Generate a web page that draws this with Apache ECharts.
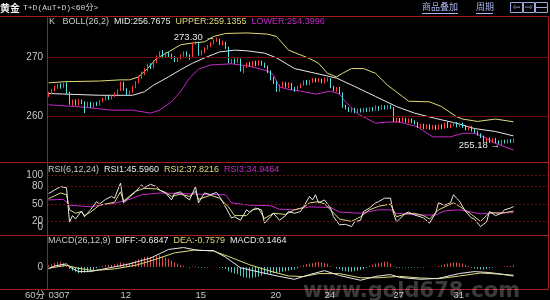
<!DOCTYPE html>
<html><head><meta charset="utf-8">
<script src="https://cdn.jsdelivr.net/npm/echarts@6/dist/echarts.min.js"></script>
<style>html,body{margin:0;padding:0;background:#000}#c{width:550px;height:300px}</style>
</head><body><div id="c"></div>
<script>
// ---------------- DATA ----------------
const slotCount = 167; // bar slots across the panel (data + empty right margin)
const dateTicks = {0:'0307', 24:'12', 49:'15', 74:'20', 92:'24', 115:'27', 135:'31'};
// [open, close, low, high]
const candles = [
[263.6,264.0,263.3,264.2],[264.0,264.5,263.8,264.7],[264.4,264.9,264.2,265.2],[264.9,265.3,264.7,265.5],
[265.2,264.9,264.7,265.6],[264.9,265.5,264.8,265.7],[265.5,264.0,263.8,265.8],[264.0,262.2,262.0,264.2],
[262.2,262.6,261.8,262.9],[262.6,262.1,261.9,262.9],[262.1,262.7,261.9,263.0],[262.7,262.4,262.1,262.9],
[262.4,261.8,260.6,262.6],[261.8,262.3,261.6,262.5],[262.3,261.7,261.5,262.5],[261.7,262.2,261.5,262.4],
[262.2,262.0,261.8,262.5],[262.0,262.6,261.9,262.8],[262.6,262.9,262.4,263.2],[262.9,263.3,262.7,263.5],
[263.3,263.0,262.8,263.5],[263.0,263.5,262.9,263.7],[263.5,263.9,263.3,264.1],[263.9,264.4,263.7,264.6],
[264.4,265.6,264.3,265.9],[265.6,264.6,264.4,265.9],[264.6,263.7,263.5,264.8],[263.7,264.2,263.6,264.4],
[264.2,265.0,264.0,265.2],[265.0,265.8,264.8,266.0],[265.8,266.6,265.6,266.9],[266.6,267.3,266.4,267.6],
[267.3,267.9,267.0,268.2],[267.9,268.6,267.6,268.9],[268.6,268.3,268.0,269.0],[268.3,269.3,268.1,269.5],
[269.3,270.0,269.0,270.3],[270.0,270.7,269.8,271.0],[270.7,270.1,269.8,271.2],[270.1,270.6,269.9,270.9],
[270.6,270.3,270.0,270.9],[270.3,270.0,269.7,270.6],[270.0,269.4,269.2,270.2],[269.4,269.8,269.2,270.0],
[269.8,270.3,269.6,270.5],[270.3,270.8,270.1,271.0],[270.8,270.3,270.1,271.0],[270.3,269.8,269.6,270.5],
[270.2,272.3,270.0,272.5],[272.3,272.4,272.1,272.7],[272.4,270.5,270.3,272.6],[270.5,271.0,270.3,271.2],
[270.9,271.5,270.7,271.7],[271.5,271.9,271.3,272.1],[271.9,272.4,271.7,272.6],[272.4,272.8,272.2,273.0],
[272.8,273.0,272.6,273.3],[273.0,272.3,272.1,273.1],[272.3,272.5,272.0,272.8],[272.5,271.6,271.4,272.6],
[271.6,269.2,269.0,271.8],[269.2,269.5,268.9,269.7],[269.5,269.3,268.9,269.8],[269.3,269.6,269.0,269.9],
[269.6,267.8,267.6,269.8],[267.8,268.4,267.3,268.6],[268.4,268.9,268.2,269.1],[268.9,268.6,268.4,269.2],
[268.6,269.1,268.4,269.4],[269.1,268.8,268.5,269.4],[268.8,269.2,268.6,269.5],[269.2,268.9,268.6,269.4],
[268.9,268.4,268.2,269.1],[268.4,267.6,267.3,268.6],[267.6,266.4,266.1,267.8],[266.4,265.8,265.5,266.7],
[265.8,264.4,264.2,266.0],[264.4,265.2,264.2,265.4],[265.2,265.6,264.9,265.9],[265.6,265.1,264.9,265.8],
[265.1,265.5,264.8,265.8],[265.5,264.7,264.5,265.7],[264.7,264.5,264.2,265.0],[264.5,265.0,264.3,265.2],
[265.0,265.4,264.8,265.6],[265.4,265.9,265.2,266.1],[265.9,265.5,265.3,266.2],[265.5,265.9,265.3,266.2],
[265.9,266.3,265.7,266.5],[266.3,266.0,265.8,266.5],[266.0,266.2,265.8,266.5],[266.2,265.8,265.6,266.4],
[265.8,266.1,265.6,266.6],[266.1,266.3,265.9,266.6],[266.3,265.0,264.8,266.5],[265.0,264.6,264.3,265.2],
[264.6,264.8,264.2,265.0],[264.8,264.0,263.8,265.0],[264.0,261.8,261.5,264.1],[261.8,261.4,261.2,262.0],
[261.4,261.1,260.8,261.6],[261.1,261.3,260.7,261.5],[261.3,260.9,260.6,261.5],[260.9,261.2,260.6,261.4],
[261.2,260.9,260.7,261.4],[260.9,261.3,260.7,261.5],[261.3,261.0,260.8,261.5],[261.0,261.4,260.8,261.6],
[261.4,261.2,260.9,261.6],[261.2,261.6,261.0,261.9],[261.6,261.3,261.0,261.8],[261.3,261.7,261.1,262.0],
[261.7,261.4,261.2,261.9],[261.4,261.8,261.2,262.0],[261.8,261.5,261.3,262.0],[261.5,259.3,259.1,261.6],
[259.3,259.6,259.0,259.8],[259.6,259.3,259.0,259.8],[259.3,259.7,259.1,259.9],[259.7,259.2,259.0,259.8],
[259.2,259.5,258.9,259.7],[259.5,259.1,258.9,259.7],[259.1,258.9,258.7,259.4],[258.9,258.3,258.1,259.1],
[258.3,258.6,258.0,258.8],[258.6,258.2,257.9,258.8],[258.2,258.5,257.9,258.7],[258.5,258.1,257.8,258.7],
[258.1,258.4,257.8,258.6],[258.4,258.0,257.8,258.6],[258.0,258.5,257.8,258.7],[258.5,258.2,257.9,258.7],
[258.2,258.8,258.0,259.0],[258.8,258.3,258.1,259.1],[258.3,258.6,258.1,258.8],[258.6,258.9,258.4,259.1],
[258.9,258.5,258.2,259.1],[258.5,258.8,258.3,259.0],[258.8,258.3,258.1,259.0],[258.3,258.0,257.7,258.5],
[258.0,258.2,257.7,258.4],[258.2,257.7,257.5,258.4],[257.7,257.4,257.2,257.9],[257.4,257.0,256.8,257.6],
[257.0,256.6,256.4,257.2],[256.6,255.9,255.7,256.8],[255.9,256.3,255.7,256.5],[256.3,255.9,255.6,256.5],
[255.9,256.2,255.6,256.4],[256.2,255.8,255.5,256.4],[255.8,255.5,255.4,256.0],[255.5,255.9,255.18,256.1],
[255.9,255.7,255.5,256.1],[255.7,256.0,255.5,256.2],[256.0,255.8,255.6,256.2],[255.8,256.1,255.6,256.3]
];
// Bollinger bands, read at sampled bars: [barIndex, value]
const bollUpper = [[0,265.7],[6,265.9],[17,266.0],[24,266.2],[27,266.2],[30,266.7],[33,268.1],[36,269.8],[40,270.9],[44,272.1],[48,272.4],[52,272.6],[55,273.5],[59,274.0],[66,274.1],[73,273.9],[76,273.5],[80,271.2],[87,269.8],[90,269.0],[93,267.3],[96,266.7],[98,267.3],[101,268.1],[105,268.1],[109,267.3],[113,265.3],[118,263.4],[120,262.6],[127,262.5],[131,261.7],[136,260.0],[138,259.6],[143,259.2],[149,259.6],[155,259.1355]];
const bollMid = [[0,263.9],[17,263.6],[28,263.6],[32,264.2],[35,265.3],[40,266.7],[44,267.9],[48,269.0],[53,270.1],[57,270.9],[62,271.2],[66,271.1],[72,270.7],[76,269.9],[82,268.1],[89,267.3],[96,266.5],[102,265.1],[109,263.4],[116,261.7],[122,260.6],[129,259.7],[136,258.9],[142,258.0],[149,257.5],[155,256.7675]];
const bollLower = [[0,262.0],[12,261.6],[21,261.1],[28,261.1],[34,260.6],[37,261.1],[41,262.5],[44,264.2],[47,266.5],[50,268.0],[54,268.7],[61,268.9],[67,268.5],[73,267.7],[75,267.0],[77,265.0],[80,264.6],[84,264.3],[89,263.8],[94,264.3],[97,263.8],[99,262.5],[103,260.5],[109,258.9],[113,259.1],[117,259.1],[123,258.3],[128,256.6],[134,256.6],[138,257.2],[142,257.2],[145,256.6],[149,255.5],[155,254.3996]];
// RSI(6,12,24)
const rsi1 = [[0,68],[2,74],[4,80],[6,78],[7,19],[8,30],[9,24],[11,38],[12,28],[14,40],[16,54],[17,50],[19,58],[21,63],[22,60],[24,86],[25,52],[27,62],[29,71],[31,83],[32,78],[34,84],[36,80],[37,74],[39,69],[41,57],[42,68],[44,71],[45,65],[47,57],[49,80],[50,52],[52,69],[54,66],[56,70],[57,63],[59,45],[61,26],[62,28],[64,22],[66,40],[67,36],[69,43],[71,40],[72,17],[74,28],[75,34],[77,22],[79,30],[80,37],[82,34],[84,37],[85,45],[87,63],[88,57],[89,66],[90,52],[92,57],[94,43],[95,28],[97,14],[99,15],[101,11],[102,19],[104,22],[105,37],[107,43],[109,52],[110,54],[112,60],[114,60],[115,34],[116,19],[117,24],[119,34],[120,36],[122,31],[124,28],[125,26],[127,17],[129,34],[130,52],[132,48],[134,52],[135,66],[136,60],[137,55],[139,37],[141,26],[142,24],[144,11],[146,19],[147,37],[149,30],[151,34],[152,40],[154,43],[155,45.5960]];
const rsi2 = [[0,59],[4,69],[6,66],[7,40],[9,34],[11,37],[12,30],[14,36],[17,48],[21,52],[22,53],[24,71],[25,55],[29,72],[32,77],[36,76],[39,70],[41,63],[44,67],[47,63],[49,72],[50,58],[54,65],[57,60],[60,45],[62,30],[66,30],[68,40],[70,42],[72,25],[75,34],[79,32],[82,40],[85,44],[87,52],[90,54],[92,50],[94,40],[97,24],[101,20],[104,28],[107,40],[110,46],[114,50],[116,28],[119,33],[122,34],[125,30],[127,24],[130,40],[135,52],[137,46],[141,32],[144,20],[147,35],[151,34],[155,37.8216]];
const rsi3 = [[0,57],[5,58],[7,48],[14,45],[17,48],[22,51],[27,58],[31,66],[37,69],[50,67],[59,66],[61,52],[67,48],[74,47],[77,41],[82,40],[87,45],[94,44],[97,36],[104,34],[107,37],[110,40],[114,40],[116,34],[124,31],[129,31],[132,38],[137,40],[141,36],[144,33],[149,35],[155,34.9464]];
// MACD(26,12,9)
const diff = [[0,-0.14],[2,0.1],[6,0.27],[7,0.02],[10,-0.38],[14,-0.38],[17,-0.22],[22,0.02],[27,0.27],[34,0.76],[40,1.49],[45,1.65],[50,1.4],[55,1.4],[59,0.84],[64,-0.06],[71,-0.46],[77,-0.79],[82,-1.03],[87,-0.63],[92,-0.3],[97,-0.71],[104,-1.11],[109,-0.79],[114,-0.63],[117,-0.87],[124,-1.03],[130,-0.95],[137,-0.54],[142,-0.38],[147,-0.46],[152,-0.63],[155,-0.6847]];
const dea = [[0,-0.1],[6,0.15],[10,-0.1],[15,-0.3],[22,-0.15],[29,0.15],[35,0.6],[42,1.2],[49,1.45],[55,1.35],[60,0.9],[67,0.2],[74,-0.35],[80,-0.75],[85,-0.8],[90,-0.55],[97,-0.55],[104,-0.9],[110,-0.9],[117,-0.78],[124,-0.92],[130,-0.98],[137,-0.75],[144,-0.5],[151,-0.6],[155,-0.7579]];
const macdHist = [0.15,0.25,0.35,0.45,0.45,0.35,0.1,-0.15,-0.3,-0.4,-0.5,-0.5,-0.45,-0.4,-0.35,-0.25,-0.1,0.05,0.1,0.15,0.2,0.2,0.25,0.3,0.4,0.35,0.3,0.35,0.45,0.55,0.65,0.75,0.85,0.9,0.85,0.9,0.95,1.0,0.85,0.8,0.7,0.55,0.4,0.3,0.2,0.1,0.02,-0.05,0.05,0.08,-0.05,-0.05,-0.04,-0.03,0.02,0.03,0.02,-0.05,-0.08,-0.15,-0.35,-0.45,-0.55,-0.6,-0.75,-0.85,-0.9,-0.95,-0.9,-0.85,-0.8,-0.7,-0.6,-0.55,-0.55,-0.5,-0.5,-0.45,-0.4,-0.35,-0.3,-0.25,-0.2,-0.1,0.05,0.15,0.25,0.3,0.35,0.4,0.45,0.4,0.35,0.3,0.1,0.0,-0.1,-0.15,-0.3,-0.35,-0.4,-0.4,-0.35,-0.3,-0.25,-0.15,-0.05,0.1,0.2,0.3,0.35,0.4,0.45,0.4,0.3,0.05,-0.05,-0.05,-0.03,-0.04,-0.05,-0.04,-0.03,-0.04,-0.02,-0.03,0.02,0.03,0.02,0.04,0.1,0.15,0.25,0.3,0.35,0.4,0.4,0.35,0.3,0.2,0.1,-0.05,-0.1,-0.15,-0.2,-0.2,-0.15,-0.1,-0.05,0.02,0.04,0.03,0.05,0.08,0.1,0.1464];
const priceTicks = [270, 260];
const rsiTicks = [100, 80, 50, 20];

// ---------------- CHART ----------------
const last = a => a[a.length - 1][1];
const cats = Array.from({length: slotCount}, (_, i) => String(i));
const RED = '#ff3c3c', CYAN = '#54e6e6', WHITE = '#e8e8e8', YEL = '#e0dc78', MAG = '#c828c8';
const BORDER = '#a81c1c', DASH = '#6a0c0c', AXT = '#c8c8c8';
const F = '"Liberation Sans", Arial, sans-serif';
const CLEAR = 'rgba(0,0,0,0)';

const chart = echarts.init(document.getElementById('c'), null, {renderer: 'canvas'});

function mk(values, extra) {
  return Object.assign({
    symbol: 'none', silent: true, animation: false,
    lineStyle: {color: DASH, type: [2, 2], width: 1},
    label: {position: 'start', color: AXT, fontSize: 10, fontFamily: F, distance: 4},
    data: values.map(v => ({yAxis: v}))
  }, extra || {});
}
function line(name, data, color, ax) {
  return {name, type: 'line', data, xAxisIndex: ax, yAxisIndex: ax, showSymbol: false,
    lineStyle: {color, width: 1}, itemStyle: {color}, silent: true, z: 3};
}
function txt(x, y, text, fill, font, align) {
  return {type: 'text', x, y, silent: true, z: 50,
    style: {text, fill, font: font || ('9px ' + F), align: align || 'left', verticalAlign: 'middle',
      textAlign: align || 'left', textVerticalAlign: 'middle'}};
}
function richRow(x, y, parts) {
  const rich = {};
  let s = '';
  parts.forEach((p, i) => { rich['p' + i] = {fill: p[1], color: p[1], font: '9px ' + F}; s += (i ? '  ' : '') + '{p' + i + '|' + p[0] + '}'; });
  return {type: 'text', x, y, silent: true, z: 50,
    style: {text: s, rich, font: '9px ' + F, fill: AXT, verticalAlign: 'middle', textVerticalAlign: 'middle'}};
}
function hl(y, x1, x2, color) {
  return {type: 'line', silent: true, z: 40, shape: {x1, y1: y, x2, y2: y}, style: {stroke: color || BORDER, lineWidth: 1}};
}
function vl(x, y1, y2) {
  return {type: 'line', silent: true, z: 40, shape: {x1: x, y1, x2: x, y2}, style: {stroke: BORDER, lineWidth: 1}};
}

const option = {
  backgroundColor: '#000',
  animation: false,
  grid: [
    {left: 47, width: 501, top: 17, height: 145},
    {left: 47, width: 501, top: 175, height: 58},
    {left: 47, width: 501, top: 235, height: 54}
  ],
  xAxis: [0, 1, 2].map(g => ({
    type: 'category', gridIndex: g, data: cats, boundaryGap: true,
    axisLine: {show: false}, axisTick: {show: false}, splitLine: {show: false},
    axisLabel: g === 2 ? {
      interval: 0, align: 'left', margin: 3, color: AXT, fontSize: 9.5, fontFamily: F,
      formatter: (v, i) => dateTicks[i] || ''
    } : {show: false}
  })),
  yAxis: [
    {type: 'value', gridIndex: 0, min: 252.37, max: 276.78, show: false, scale: true},
    {type: 'value', gridIndex: 1, min: 0, max: 100, show: false},
    {type: 'value', gridIndex: 2, min: -1.68, max: 2.71, show: false}
  ],
  series: [
    {
      type: 'candlestick', data: candles, xAxisIndex: 0, yAxisIndex: 0, barWidth: 1, z: 4,
      itemStyle: {color: RED, color0: CYAN, borderColor: RED, borderColor0: CYAN, borderWidth: 1},
      markLine: mk(priceTicks, {lineStyle: {color: DASH, type: 'solid', width: 1}}),
      markPoint: {
        symbol: 'circle', symbolSize: 1, silent: true, itemStyle: {color: CLEAR},
        label: {show: true, position: 'left', distance: 1, color: WHITE, fontSize: 9.5, fontFamily: F,
          formatter: p => p.value.toFixed(2) + ' \u2192'},
        data: [{type: 'max', valueDim: 'highest'}, {type: 'min', valueDim: 'lowest'}]
      }
    },
    line('UPPER', bollUpper, YEL, 0),
    line('MID', bollMid, WHITE, 0),
    line('LOWER', bollLower, MAG, 0),
    Object.assign(line('RSI3', rsi3, MAG, 1), {markLine: mk([], {
      data: rsiTicks.map(v => ({yAxis: v})).concat([{yAxis: 0, lineStyle: {color: CLEAR},
        label: {formatter: '{z|0}', rich: {z: {padding: [0, 0, 12, 0], color: AXT, fontSize: 10, fontFamily: F}}}}])
    })}),
    line('RSI2', rsi2, YEL, 1),
    line('RSI1', rsi1, WHITE, 1),
    {
      type: 'bar', data: macdHist, xAxisIndex: 2, yAxisIndex: 2, barWidth: 1, silent: true,
      itemStyle: {color: p => p.value >= 0 ? '#e04848' : '#50c8c8'},
      markLine: mk([0], {lineStyle: {color: CLEAR, width: 1}})
    },
    line('DEA', dea, YEL, 2),
    line('DIFF', diff, WHITE, 2)
  ],
  graphic: [
    // frame
    hl(16.5, 0, 548.5), hl(162.5, 0, 548.5), hl(235.5, 0, 548.5), hl(289.5, 0, 548.5),
    vl(47.5, 17, 290), vl(548.5, 17, 290),
    // header
    txt(0, 8, '黄金', '#f0f0f0', 'bold 10px "Noto Sans CJK SC"'),
    txt(23, 8, 'T+D(AuT+D)<60分>', '#d8d8d8', '8px "Liberation Mono", "Noto Sans CJK SC"'),
    txt(422, 7, '商品叠加', '#a8b4ec', '9px "Noto Sans CJK SC"'),
    hl(13.5, 422, 458, '#a8b4ec'),
    txt(476, 7, '周期', '#a8b4ec', '9px "Noto Sans CJK SC"'),
    hl(13.5, 476, 493, '#a8b4ec'),
    {type: 'rect', shape: {x: 510.5, y: 2.5, width: 12, height: 10}, style: {fill: 'none', stroke: '#9aa8dc', lineWidth: 1}},
    {type: 'rect', shape: {x: 523.5, y: 2.5, width: 11, height: 10}, style: {fill: 'none', stroke: '#9aa8dc', lineWidth: 1}},
    {type: 'rect', shape: {x: 535.5, y: 2.5, width: 12, height: 10}, style: {fill: 'none', stroke: '#9aa8dc', lineWidth: 1}},
    txt(516.5, 8, '\u21E6', '#9aa8dc', '9px "DejaVu Sans"', 'center'),
    txt(529, 8, '\u21E8', '#9aa8dc', '9px "DejaVu Sans"', 'center'),
    hl(7.5, 536, 547, '#9aa8dc'),
    // panel titles
    richRow(49, 22, [['K ', AXT], ['BOLL(26,2)', AXT], ['MID:' + last(bollMid).toFixed(4), WHITE],
      ['UPPER:' + last(bollUpper).toFixed(4), YEL], ['LOWER:' + last(bollLower).toFixed(4), MAG]]),
    richRow(48, 170, [['RSI(6,12,24)', AXT], ['RSI1:' + last(rsi1).toFixed(4), WHITE],
      ['RSI2:' + last(rsi2).toFixed(4), YEL], ['RSI3:' + last(rsi3).toFixed(4), MAG]]),
    richRow(48, 241, [['MACD(26,12,9)', AXT], ['DIFF:' + last(diff).toFixed(4), WHITE],
      ['DEA:' + last(dea).toFixed(4), YEL], ['MACD:' + macdHist[macdHist.length - 1].toFixed(4), WHITE]]),
    txt(45, 295, '60分', AXT, '9.5px ' + F + ', "Noto Sans CJK SC"', 'right'),
    // watermark
    txt(303, 292, 'www.gold678.com', 'rgba(210,210,210,0.28)', 'bold 21px "DejaVu Sans"')
  ]
};
chart.setOption(option);
</script></body></html>
